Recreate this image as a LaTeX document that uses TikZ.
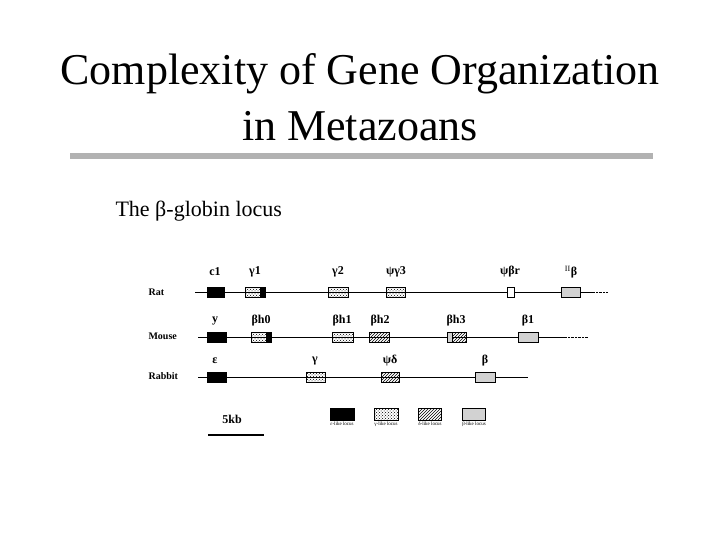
\documentclass[tikz,border=0pt]{standalone}
\usepackage{fontspec}
\setmainfont{Liberation Serif}
\usetikzlibrary{patterns}
\begin{document}
\begin{tikzpicture}[x=1pt,y=-1pt,
  gene/.style={draw=black,line width=0.8pt},
  eps/.style={gene,fill=black},
  gam/.style={gene,pattern=crosshatch dots},
  del/.style={gene,pattern=north east lines},
  bet/.style={gene,fill=gray!35},
  lab/.style={font=\fontsize{12}{13}\selectfont\bfseries},
  row/.style={font=\fontsize{10}{12}\selectfont\bfseries,anchor=west},
  tiny/.style={font=\fontsize{5}{6}\selectfont}]
\useasboundingbox (0,0) rectangle (720,540);
\node (t1) at (360,74) {\fontsize{44}{48}\selectfont Complexity of Gene Organization};
\node (t2) at (360,126) {\fontsize{44}{48}\selectfont in Metazoans};
\draw[line width=6pt,gray!60] (70,156) -- (653,156);
\node[anchor=west] (sub) at (112,211) {\fontsize{22}{26}\selectfont The β-globin locus};
% Rat
\node[row] (rat) at (145,292) {Rat};
\coordinate (ra) at (195,292); \coordinate (rb) at (593,292); \coordinate (rc) at (608,292);
\draw (ra) -- (rb); \draw[densely dotted] (rb) -- (rc);
\draw[eps] (207,287) rectangle (224,297);
\draw[gam] (245,287) rectangle (260,297); \draw[eps] (260,287) rectangle (265,297);
\draw[gam] (328,287) rectangle (348,297);
\draw[gam] (386,287) rectangle (405,297);
\draw[gene,fill=white] (507,287) rectangle (514,297);
\draw[bet] (561,287) rectangle (580,297);
\node[lab] at (215,272) {c1};
\node[lab] at (255,272) {γ1};
\node[lab] at (338,272) {γ2};
\node[lab] at (396,272) {ψγ3};
\node[lab] at (510,272) {ψβr};
\node[lab] at (571,272) {$^{\mathrm{II}}$β};
% Mouse
\node[row] (mouse) at (145,336) {Mouse};
\coordinate (ma) at (198,337); \coordinate (mb) at (565,337); \coordinate (mc) at (588,337);
\draw (ma) -- (mb); \draw[densely dotted] (mb) -- (mc);
\draw[eps] (207,332) rectangle (226,342);
\draw[gam] (251,332) rectangle (266,342); \draw[eps] (266,332) rectangle (271,342);
\draw[gam] (332,332) rectangle (353,342);
\draw[del] (369,332) rectangle (389,342);
\draw[bet] (447,332) rectangle (452,342); \draw[del] (452,332) rectangle (466,342);
\draw[bet] (518,332) rectangle (538,342);
\node[lab] at (215,321) {y};
\node[lab] at (261,321) {βh0};
\node[lab] at (342,321) {βh1};
\node[lab] at (380,321) {βh2};
\node[lab] at (456,321) {βh3};
\node[lab] at (528,321) {β1};
% Rabbit
\node[row] (rabbit) at (145,376) {Rabbit};
\coordinate (ba) at (198,377); \coordinate (bb) at (528,377);
\draw (ba) -- (bb);
\draw[eps] (207,372) rectangle (226,382);
\draw[gam] (306,372) rectangle (325,382);
\draw[del] (381,372) rectangle (399,382);
\draw[bet] (475,372) rectangle (495,382);
\node[lab] at (215,361) {ε};
\node[lab] at (315,361) {γ};
\node[lab] at (390,361) {ψδ};
\node[lab] at (485,361) {β};
% scale
\node[lab] (kb) at (232,419) {5kb};
\coordinate (sa) at (208,435); \coordinate (sb) at (264,435);
\draw[line width=1.5pt] (sa) -- (sb);
% legend
\draw[eps] (330,408) rectangle (354,420);
\draw[gam] (374,408) rectangle (398,420);
\draw[del] (418,408) rectangle (441,420);
\draw[bet] (462,408) rectangle (485,420);
\node[tiny] at (342,424) {ε-like locus};
\node[tiny] at (386,424) {γ-like locus};
\node[tiny] at (430,424) {δ-like locus};
\node[tiny] at (474,424) {β-like locus};
\end{tikzpicture}
\end{document}
